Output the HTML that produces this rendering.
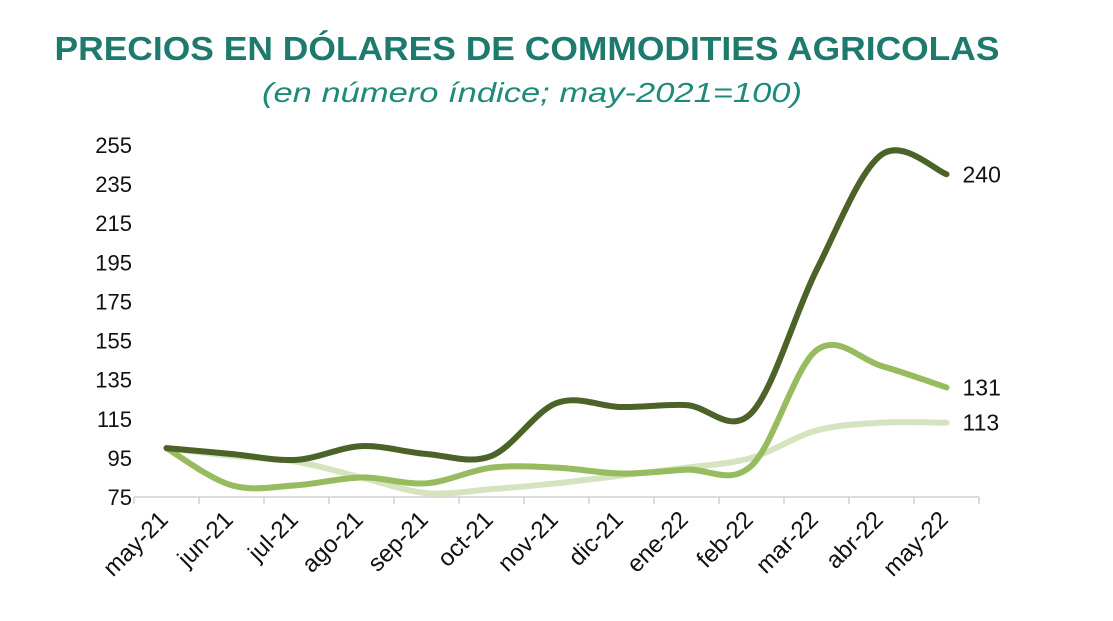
<!DOCTYPE html>
<html><head><meta charset="utf-8"><style>
body{margin:0;background:#fff;width:1113px;height:616px;overflow:hidden;font-family:"Liberation Sans",sans-serif}
</style></head><body>
<svg width="1113" height="616">
<text x="527" y="60" text-anchor="middle" font-size="33" fill="#1d7a6c" textLength="945" lengthAdjust="spacingAndGlyphs" font-weight="bold" style="font-weight:600">PRECIOS EN DÓLARES DE COMMODITIES AGRICOLAS</text>
<text x="532" y="102" text-anchor="middle" font-size="28" font-style="italic" fill="#1d8a7a" textLength="540" lengthAdjust="spacingAndGlyphs">(en número índice; may-2021=100)</text>
<g id="axes"></g><g id="lines"></g>
</svg>
<script>
const categories=["may-21","jun-21","jul-21","ago-21","sep-21","oct-21","nov-21","dic-21","ene-22","feb-22","mar-22","abr-22","may-22"];
const seriesDark=[100,97,94,101,97,96,123,121,122,118,191,250,240];
const seriesMid=[100,81,81,85,82,90,90,87,89,91,150,142,131];
const seriesLight=[100,96,93,85,77,79,82,86,90,95,109,113,113];
const yTicks=[75,95,115,135,155,175,195,215,235,255];
const endLabels=["240","131","113"];
const NS="http://www.w3.org/2000/svg";
const x0=134,step=65,yBase=497,yMin=75,pxPer=1.956;
const X=i=>x0+step*(i+0.5);
const Y=v=>yBase-(v-yMin)*pxPer;
const ax=document.getElementById('axes'),ln=document.getElementById('lines');
function mk(tag,at,parent){const e=document.createElementNS(NS,tag);for(const k in at)e.setAttribute(k,at[k]);parent.appendChild(e);return e;}
yTicks.forEach(t=>{const e=mk('text',{x:132,y:Y(t)+8,'text-anchor':'end','font-size':22,fill:'#111'},ax);


e.textContent=t;});
const axl=mk('line',{x1:x0,x2:x0+step*categories.length,y1:yBase,y2:yBase,stroke:'#d0d0d0','stroke-width':1.5},ax);


for(let i=0;i<=categories.length;i++){const t=mk('line',{x1:x0+step*i,x2:x0+step*i,y1:yBase,y2:yBase+7,stroke:'#d0d0d0','stroke-width':1.5},ax);

}
categories.forEach((c,i)=>{const tx=X(i)+3,ty=yBase+24;const e=mk('text',{x:tx,y:ty,'text-anchor':'end','font-size':24,fill:'#111',transform:`rotate(-45 ${tx} ${ty})`},ax);


e.textContent=c;});
function path(vals){const p=vals.map((v,i)=>[X(i),Y(v)]);let d=`M${p[0][0]},${p[0][1]}`;
for(let i=0;i<p.length-1;i++){const a=p[i-1]||p[i],b=p[i],c=p[i+1],e=p[i+2]||c;const t=1/6;
d+=` C${b[0]+(c[0]-a[0])*t},${b[1]+(c[1]-a[1])*t} ${c[0]-(e[0]-b[0])*t},${c[1]-(e[1]-b[1])*t} ${c[0]},${c[1]}`;}return d;}
[[seriesLight,'#d5e3bf','series-light'],[seriesMid,'#97bb5f','series-mid'],[seriesDark,'#4b6228','series-dark']].forEach(([s,col,n],k)=>{
const e=mk('path',{d:path(s),fill:'none',stroke:col,'stroke-width':6,'stroke-linecap':'round'},ln);

});
[[seriesDark,0],[seriesMid,1],[seriesLight,2]].forEach(([s,k])=>{const last=s.length-1;
const e=mk('text',{x:X(last)+16,y:Y(s[last])+8,'font-size':23,fill:'#111'},ln);


e.textContent=endLabels[k];});
</script>
</body></html>
